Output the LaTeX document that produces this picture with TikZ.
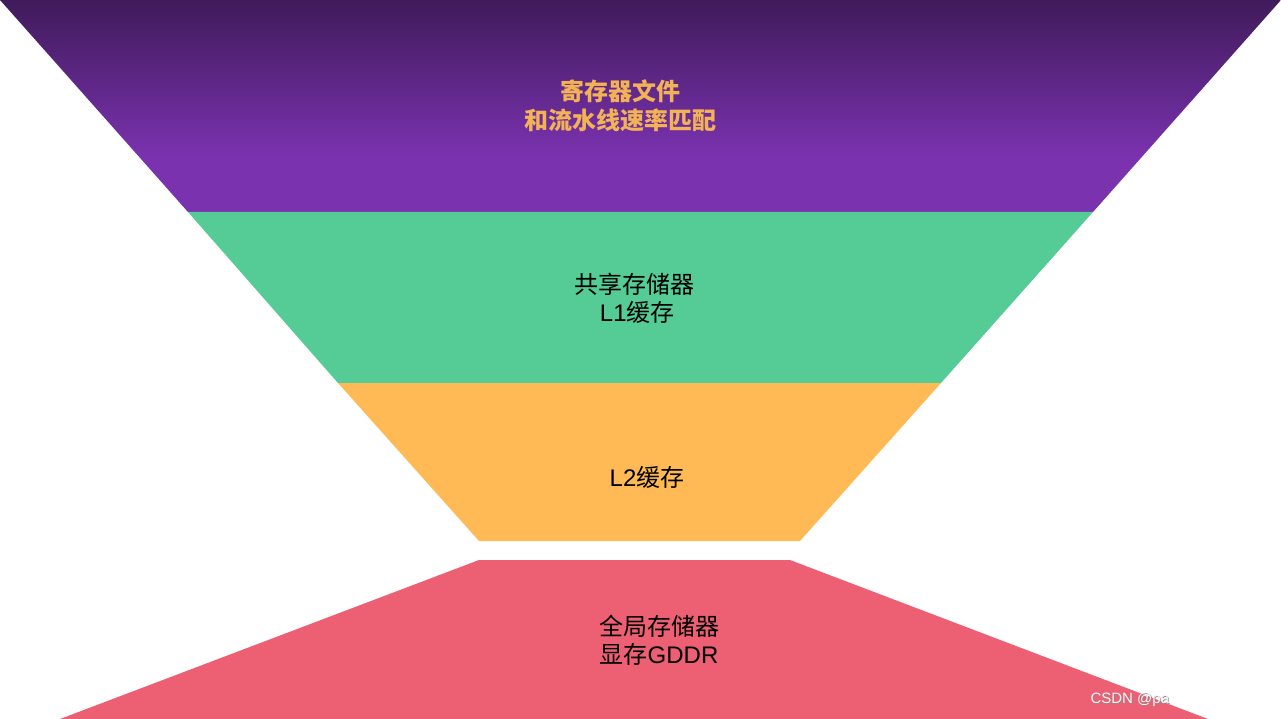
\documentclass[tikz,border=0pt]{standalone}
\usepackage{fontspec}
\setmainfont{Liberation Sans}
\newfontfamily\cjk{Noto Sans CJK SC}
\newcommand{\zh}[1]{{\cjk #1}}

\definecolor{regtop}{RGB}{64,27,91}
\definecolor{regbot}{RGB}{122,50,175}
\definecolor{sharedgreen}{RGB}{85,203,149}
\definecolor{ltwoorange}{RGB}{255,185,85}
\definecolor{globalpink}{RGB}{237,96,116}
\definecolor{regtext}{RGB}{242,178,86}

\pgfdeclareverticalshading{regshade}{100bp}{color(0bp)=(regbot); color(25bp)=(regbot); color(38bp)=(regbot); color(75bp)=(regtop); color(100bp)=(regtop)}

\begin{document}
\begin{tikzpicture}[
    x=1pt, y=-1pt,
    level/.style={draw=none},
    caption/.style={font=\fontsize{24}{28}\selectfont, align=center, text=black},
    regcaption/.style={font=\bfseries\fontsize{24}{29}\selectfont, align=center, text=regtext}
]
\useasboundingbox (0,0) rectangle (1281,719);

% Register file
\shade[level, shading=regshade]
    (0,0) -- (1281,0) -- (1093,212) -- (188,212) -- cycle;

% Shared memory / L1
\fill[level, sharedgreen] (188,212) -- (1093,212) -- (941,383) -- (338,383) -- cycle;

% L2
\fill[level, ltwoorange] (338,383) -- (941,383) -- (800,541) -- (479,541) -- cycle;

% Global memory
\fill[level, globalpink] (479,560) -- (790,560) -- (1208,719) -- (60,719) -- cycle;

% Texts
\node[regcaption] (regs) at (620,106) {\zh{寄存器文件}\\\zh{和流水线速率匹配}};
\node[caption] (shared) at (634,298) {\zh{共享存储器}\\\ L1\zh{缓存}};
\node[caption] (ltwo) at (647,477) {L2\zh{缓存}};
\node[caption] (global) at (659,640) {\zh{全局存储器}\\\zh{显存}GDDR};

% Watermark
\node[font=\fontsize{15}{18}\selectfont, text=black!45, anchor=west] (markshadow) at (1087.8,700.8) {CSDN @pa};
\node[font=\fontsize{15}{18}\selectfont, text=white!92!globalpink, anchor=west] (mark) at (1087,700) {CSDN @pa};

\end{tikzpicture}
\end{document}
